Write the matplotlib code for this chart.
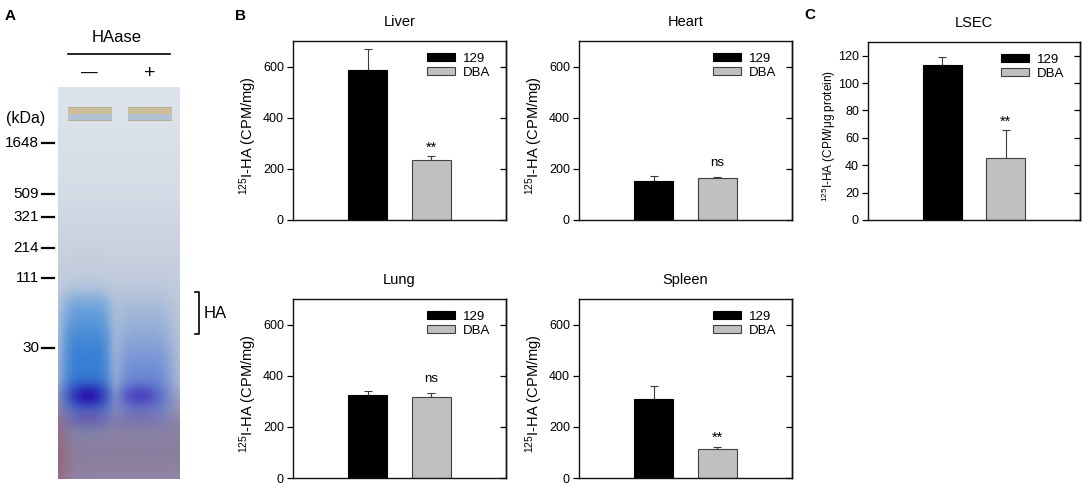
import numpy as np
import matplotlib
matplotlib.use('Agg')
import matplotlib.pyplot as plt
from matplotlib.patches import Patch

plt.rcParams['font.family'] = ['Liberation Sans', 'DejaVu Sans']
plt.rcParams['mathtext.fontset'] = 'custom'
plt.rcParams['mathtext.rm'] = 'Liberation Sans'
plt.rcParams['mathtext.it'] = 'Liberation Sans:italic'
plt.rcParams['mathtext.bf'] = 'Liberation Sans:bold'

# ---------------- data ----------------
strains = ['129', 'DBA']
liver_mean = [588, 233]
liver_err = [82, 16]
heart_mean = [153, 165]
heart_err = [21, 5]
lung_mean = [326, 317]
lung_err = [14, 17]
spleen_mean = [308, 112]
spleen_err = [51, 11]
lsec_mean = [113.5, 45.6]
lsec_err = [5.3, 20.0]
organ_sig = {'Liver': '**', 'Heart': 'ns', 'Lung': 'ns', 'Spleen': '**'}
lsec_sig = '**'
organ_yticks = [0, 200, 400, 600]
lsec_yticks = [0, 20, 40, 60, 80, 100, 120]
marker_kda = ['1648', '509', '321', '214', '111', '30']
marker_ypx = [143, 194, 217, 248, 278, 348]

FW, FH = 1084, 486
fig = plt.figure(figsize=(FW / 100, FH / 100), dpi=100)


def rect(x0, y0, x1, y1):
    return [x0 / FW, 1 - y1 / FH, (x1 - x0) / FW, (y1 - y0) / FH]


# ---------------- panel A : gel picture ----------------
GX0, GX1, GY0, GY1 = 58, 180, 87, 479
H, W = GY1 - GY0, GX1 - GX0
yy, xx = np.mgrid[0:H, 0:W]
Y = yy + GY0 + 0.5
X = xx + GX0 + 0.5


def sig(z):
    return 1 / (1 + np.exp(-z))


kp = [87, 200, 290, 380, 425, 455, 479]
R = np.interp(Y, kp, [222, 212, 192, 175, 142, 138, 145])
G = np.interp(Y, kp, [228, 220, 204, 185, 130, 126, 132])
B = np.interp(Y, kp, [236, 230, 220, 212, 162, 158, 165])
img = np.stack([R, G, B], axis=-1) / 255.0


def blend(color, alpha):
    global img
    a = np.clip(alpha, 0, 1)[..., None]
    img = img * (1 - a) + (np.array(color) / 255.0) * a


# faint lilac haze in the middle
blend((205, 198, 218), 0.25 * sig((Y - 215) / 15) * sig((285 - Y) / 15))
# lane 1 smear
ax1m = np.exp(-((X - 87) / 25) ** 4)
blend((95, 160, 222), 0.75 * ax1m * sig((Y - 296) / 6) * sig((418 - Y) / 8))
blend((30, 110, 210), 0.75 * ax1m * sig((Y - 325) / 14) * sig((415 - Y) / 8))
blend((40, 15, 170), 0.92 * np.exp(-(((X - 88) / 20) ** 2 + ((Y - 396) / 13) ** 2)))
blend((110, 60, 160), 0.5 * np.exp(-(((X - 88) / 22) ** 2 + ((Y - 418) / 10) ** 2)))
# lane 2 smear
ax2m = np.exp(-((X - 144) / 28) ** 4)
blend((120, 160, 215), 0.45 * ax2m * sig((Y - 300) / 10) * sig((418 - Y) / 8))
blend((60, 100, 210), 0.55 * ax2m * sig((Y - 350) / 14) * sig((415 - Y) / 8))
blend((65, 45, 185), 0.72 * np.exp(-(((X - 140) / 20) ** 2 + ((Y - 396) / 12) ** 2)))
blend((115, 80, 165), 0.35 * np.exp(-(((X - 140) / 22) ** 2 + ((Y - 418) / 10) ** 2)))
# gap between lanes lighter
blend((170, 190, 215), 0.3 * np.exp(-((X - 116) / 5) ** 2) * sig((Y - 290) / 6) * sig((400 - Y) / 8))
# reddish bottom-left tint
blend((155, 85, 100), 0.5 * np.exp(-((X - GX0) / 12) ** 2) * sig((Y - 415) / 12))
# wells
for wx0, wx1 in [(68, 112), (128, 172)]:
    inx = (X >= wx0) & (X <= wx1)
    blend((170, 160, 130), 0.8 * (inx & (Y >= 107) & (Y <= 121)))
    blend((210, 195, 150), 0.8 * (inx & (Y >= 108) & (Y <= 114)))
    blend((180, 200, 225), 0.8 * (inx & (Y > 114) & (Y <= 120)))
img = np.clip(img, 0, 1)

gax = fig.add_axes(rect(GX0, GY0, GX1, GY1))
gax.imshow(img, aspect='auto', interpolation='bilinear')
gax.axis('off')

# ---------------- bar panels ----------------
BAR_W = 0.614


def bar_panel(box, means, errs, sig_txt, title, ylim, yticks, ylabel,
              lab_x, lab_fs):
    ax = fig.add_axes(rect(*box))
    x = np.arange(len(strains))
    ax.errorbar(x, means, yerr=[np.zeros(len(errs)), errs], fmt='none',
                ecolor='#3a3a3a', elinewidth=0.8, capsize=3, capthick=0.8,
                zorder=1)
    ax.bar(x, means, width=BAR_W, color=['black', '#c0c0c0'],
           edgecolor=['black', '#404040'], linewidth=0.8, zorder=2)
    ax.set_xlim(-1.17, 2.17)
    ax.set_ylim(*ylim)
    ax.set_yticks(yticks)
    ax.set_xticks([])
    for s in ax.spines.values():
        s.set_linewidth(1.0)
        s.set_color('#111111')
    ax.tick_params(axis='y', direction='out', length=4.5, width=0.9,
                   labelsize=9, pad=2)
    sec = ax.secondary_yaxis('right')
    sec.set_yticks(yticks)
    sec.tick_params(axis='y', direction='in', length=4.5, width=0.9,
                    labelright=False)
    sec.spines['right'].set_linewidth(1.0)
    ax.set_title(title, fontsize=10.5, pad=11)
    ax.set_ylabel(ylabel, fontsize=lab_fs)
    ax.yaxis.set_label_coords(lab_x, 0.47)
    if sig_txt == 'ns':
        ax.annotate(sig_txt, xy=(1, means[1] + errs[1]), xytext=(0, 7.5),
                    textcoords='offset points', ha='center', va='baseline',
                    fontsize=9.5)
    else:
        ax.annotate(sig_txt, xy=(1, means[1] + errs[1]), xytext=(0, 3.5),
                    textcoords='offset points', ha='center', va='baseline',
                    fontsize=10.5)
    handles = [Patch(facecolor='black', edgecolor='black', linewidth=0.8),
               Patch(facecolor='#c0c0c0', edgecolor='#404040', linewidth=0.8)]
    ax.legend(handles, strains, loc='upper left', bbox_to_anchor=(0.629, 0.935),
              frameon=False, fontsize=9.5, handlelength=2.12,
              handleheight=0.6, handletextpad=0.6, labelspacing=0.15,
              borderpad=0, borderaxespad=0)
    return ax


organ_label = r'$^{125}$I-HA (CPM/mg)'
bar_panel((293, 41, 506, 220), liver_mean, liver_err, organ_sig['Liver'], 'Liver',
          (0, 700), organ_yticks, organ_label, -0.16, 10.5)
bar_panel((579, 41, 792, 220), heart_mean, heart_err, organ_sig['Heart'], 'Heart',
          (0, 700), organ_yticks, organ_label, -0.16, 10.5)
bar_panel((293, 299, 506, 478), lung_mean, lung_err, organ_sig['Lung'], 'Lung',
          (0, 700), organ_yticks, organ_label, -0.16, 10.5)
bar_panel((579, 299, 792, 478), spleen_mean, spleen_err, organ_sig['Spleen'], 'Spleen',
          (0, 700), organ_yticks, organ_label, -0.16, 10.5)
bar_panel((868, 42, 1080, 220), lsec_mean, lsec_err, lsec_sig, 'LSEC',
          (0, 130), lsec_yticks, r'$^{125}$I-HA (CPM/μg protein)', -0.14, 8.5)

# ---------------- overlay annotations ----------------
ov = fig.add_axes([0, 0, 1, 1], zorder=10)
ov.set_xlim(0, FW)
ov.set_ylim(FH, 0)
ov.axis('off')
ov.patch.set_alpha(0)

for lab, (px, py) in {'A': (10, 16), 'B': (240, 16), 'C': (810, 15)}.items():
    ov.text(px, py, lab, fontsize=11, fontweight='bold', ha='center', va='center')

ov.text(117, 38, 'HAase', fontsize=12, ha='center', va='center')
ov.plot([68, 170], [54, 54], color='black', lw=1.2)
ov.text(89, 73, '—', fontsize=12, ha='center', va='center')
ov.text(150, 73, '+', fontsize=14, ha='center', va='center')
ov.text(26, 118, '(kDa)', fontsize=11.5, ha='center', va='center')
for lab, py in zip(marker_kda, marker_ypx):
    ov.text(39, py, lab, fontsize=11, ha='right', va='center')
    ov.plot([42, 54], [py, py], color='black', lw=1.6)
ov.plot([195, 199, 199, 195], [292, 292, 334, 334], color='black', lw=1.2)
ov.text(204, 313, 'HA', fontsize=12, ha='left', va='center')

fig.savefig('out.png', dpi=100)
